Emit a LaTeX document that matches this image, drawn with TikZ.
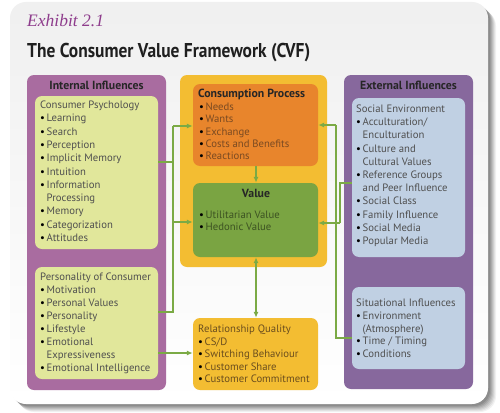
\documentclass[tikz,border=0pt]{standalone}
\usepackage{fontspec}
\setmainfont{PT Sans}
\newfontfamily\exfont{Liberation Serif}
\usetikzlibrary{arrows.meta}
\definecolor{lpurple}{HTML}{A96CA0}
\definecolor{rpurple}{HTML}{87689D}
\definecolor{lgreen}{HTML}{E1E79B}
\definecolor{lblue}{HTML}{C0D0E3}
\definecolor{cyellow}{HTML}{F3BD32}
\definecolor{corange}{HTML}{E8852C}
\definecolor{cgreen}{HTML}{7AA442}
\definecolor{conn}{HTML}{7BAA45}
\definecolor{gtext}{HTML}{4F4F4F}
\definecolor{otext}{HTML}{7A4A22}
\definecolor{vtext}{HTML}{3C5222}
\definecolor{ytext}{HTML}{6B4E1E}
\definecolor{extitle}{HTML}{8E3C8C}
\newcommand\bl{\makebox[6.5pt][l]{\color{black}\textbullet}}
\newcommand\ct{\hspace*{6.5pt}}
\newcommand\linelist[6]{% name, x, y0, dy, color, list
  \foreach \t [count=\i from 0] in {#6}
    \node[txt, text=#5, anchor=base west] (#1-\i) at (#2, #3+\i*#4) {\t};}
\begin{document}
\begin{tikzpicture}[x=1pt,y=-1pt,
  box/.style={rounded corners=7pt, inner sep=0pt, draw=none},
  txt/.style={inner sep=0pt, font=\fontsize{10.7}{12}\selectfont},
  hdr/.style={inner sep=0pt, font=\fontsize{11.8}{12}\selectfont\bfseries, text=black!85},
  cn/.style={draw=conn, line width=1.2pt},
  arr/.style={cn, -{Latex[length=6pt,width=5pt]}},
  darr/.style={cn, {Latex[length=6pt,width=5pt]}-{Latex[length=6pt,width=5pt]}}]
\useasboundingbox (0,0) rectangle (500,412);
\fill[white] (0,0) rectangle (500,412);
% card shadow
\foreach \i/\o in {8/0.05,7/0.06,6/0.07,5/0.08,4/0.09,3/0.1,2/0.1}
  \fill[black,opacity=\o,rounded corners=16pt] (10+\i,2+\i) rectangle (488+\i,404+\i);
\path[rounded corners=16pt, top color=black!6, bottom color=white] (10,2) rectangle (488,404);
% titles
\node[inner sep=0pt, anchor=base west, text=extitle] (ex) at (27,26.5) {\fontsize{17.5}{17.5}\selectfont\exfont\itshape Exhibit 2.1};
\node[inner sep=0pt, anchor=base west] (title) at (27,57.5) {\resizebox{283pt}{\height}{\fontsize{20}{20}\selectfont\bfseries\color{black!88}The Consumer Value Framework (CVF)}};
% boxes
\node[box, fill=lpurple, minimum width=139pt, minimum height=315pt] (lbox) at (96.5,232.5) {};
\node[box, fill=lgreen, minimum width=123pt, minimum height=153pt] (cpsy) at (96.5,172.5) {};
\node[box, fill=lgreen, minimum width=123pt, minimum height=112pt] (pers) at (96.5,323) {};
\node[box, fill=cyellow, minimum width=147pt, minimum height=192pt] (cbox) at (253.5,171) {};
\node[box, fill=corange, minimum width=125pt, minimum height=82pt] (cproc) at (255.5,125) {};
\node[box, fill=cgreen, minimum width=125pt, minimum height=74pt] (value) at (255.5,220) {};
\node[box, fill=cyellow, minimum width=125pt, minimum height=72pt] (rq) at (255.5,354) {};
\node[box, fill=rpurple, minimum width=129pt, minimum height=314pt] (rbox) at (408.5,232) {};
\node[box, fill=lblue, minimum width=113pt, minimum height=159pt] (soc) at (408.5,177.5) {};
\node[box, fill=lblue, minimum width=113pt, minimum height=82pt] (sit) at (408.5,328) {};
% headers
\node[hdr, anchor=base] (hint) at (96.5,89.5) {Internal Influences};
\node[hdr, anchor=base] (hext) at (408.5,89.5) {External Influences};
\node[hdr, anchor=base west] (hcp) at (198,97.5) {Consumption Process};
\node[hdr, anchor=base] (hval) at (256,197.5) {Value};
% lists
\linelist{lcp}{40}{108.5}{13.3}{gtext}{Consumer Psychology,\bl Learning,\bl Search,\bl Perception,\bl Implicit Memory,\bl Intuition,\bl Information,\ct Processing,\bl Memory,\bl Categorization,\bl Attitudes}
\linelist{lpc}{40}{280.5}{13}{gtext}{Personality of Consumer,\bl Motivation,\bl Personal Values,\bl Personality,\bl Lifestyle,\bl Emotional,\ct Expressiveness,\bl Emotional Intelligence}
\linelist{lcpr}{199}{110.5}{12.25}{otext}{\bl Needs,\bl Wants,\bl Exchange,\bl Costs and Benefits,\bl Reactions}
\linelist{lval}{199}{218.5}{12}{vtext}{\bl Utilitarian Value,\bl Hedonic Value}
\linelist{lrq}{198}{332.5}{12.5}{ytext}{Relationship Quality,\bl CS/D,\bl Switching Behaviour,\bl Customer Share,\bl Customer Commitment}
\linelist{lsoc}{356}{112.5}{13.2}{gtext}{Social Environment,\bl Acculturation/,\ct Enculturation,\bl Culture and,\ct Cultural Values,\bl Reference Groups,\ct and Peer Influence,\bl Social Class,\bl Family Influence,\bl Social Media,\bl Popular Media}
\linelist{lsit}{356}{306.5}{12.75}{gtext}{Situational Influences,\bl Environment,\ct (Atmosphere),\bl Time / Timing,\bl Conditions}
% connector junctions
\coordinate (jA) at (173,162);
\coordinate (jT) at (173,126);
\coordinate (jV) at (173,222);
\coordinate (jB) at (173,312);
\coordinate (jR) at (180,353);
\coordinate (kT) at (336,125);
\coordinate (kB) at (336,338);
\coordinate (kS) at (340,183);
\coordinate (kV) at (340,223);
% connectors
\draw[cn] (cpsy.east |- jA) -- (jA);
\draw[cn] (jT) -- (jB) -- (pers.east |- jB);
\draw[arr] (jT) -- (cproc.west |- jT);
\draw[arr] (jV) -- (value.west |- jV);
\draw[arr] (pers.east |- jR) -- (rq.west |- jR);
\draw[cn] (kT) -- (kB) -- (sit.west |- kB);
\draw[arr] (kT) -- (cproc.east |- kT);
\draw[cn] (soc.west |- kS) -- (kS) -- (kV);
\draw[arr] (kV) -- (value.east |- kV);
\draw[arr] (cproc.south -| hval) -- (value.north -| hval);
\draw[darr] (value.south -| hval) -- (rq.north -| hval);
\end{tikzpicture}
\end{document}
